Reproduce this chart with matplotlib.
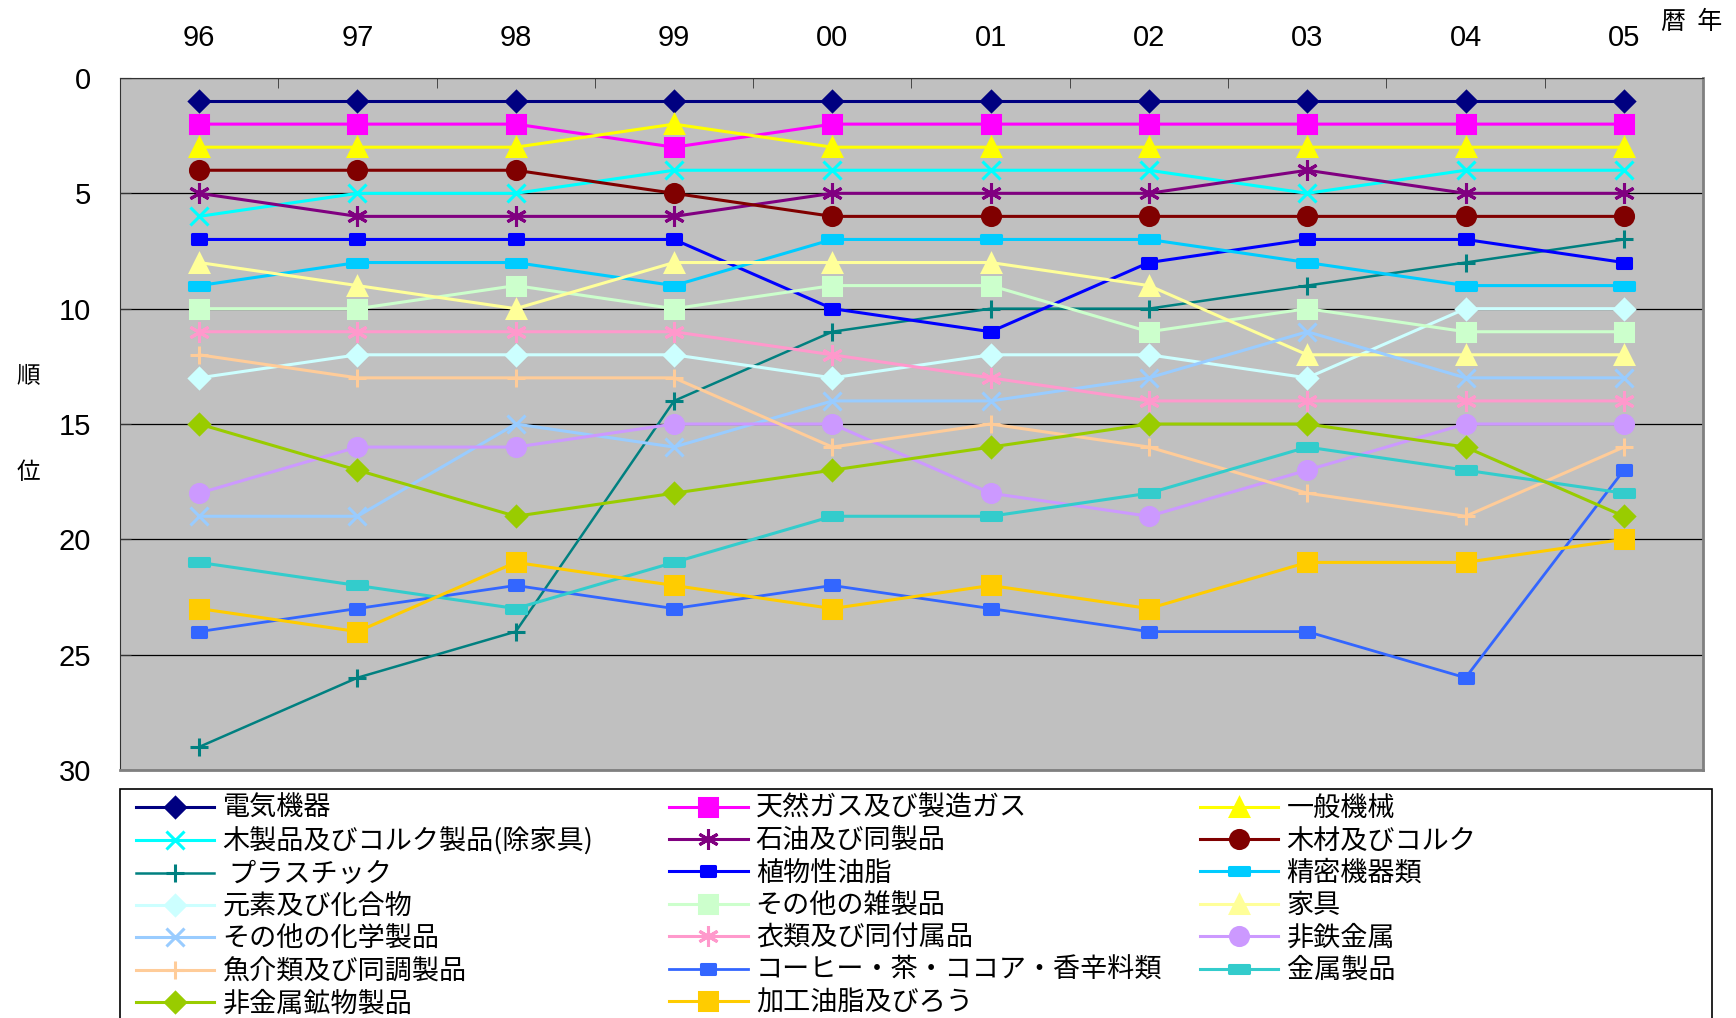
import matplotlib
matplotlib.use("Agg")
import matplotlib.pyplot as plt
from matplotlib.path import Path
from matplotlib.patches import Rectangle

plt.rcParams['font.family'] = ['Noto Sans CJK JP', 'DejaVu Sans']

# --- data (rank by year) ---
years = ["96", "97", "98", "99", "00", "01", "02", "03", "04", "05"]

names = [
    "電気機器", "天然ガス及び製造ガス", "一般機械",
    "木製品及びコルク製品(除家具)", "石油及び同製品", "木材及びコルク",
    " プラスチック", "植物性油脂", "精密機器類",
    "元素及び化合物", "その他の雑製品", "家具",
    "その他の化学製品", "衣類及び同付属品", "非鉄金属",
    "魚介類及び同調製品", "コーヒー・茶・ココア・香辛料類", "金属製品",
    "非金属鉱物製品", "加工油脂及びろう",
]

denki_kiki = [1, 1, 1, 1, 1, 1, 1, 1, 1, 1]
tennen_gas = [2, 2, 2, 3, 2, 2, 2, 2, 2, 2]
ippan_kikai = [3, 3, 3, 2, 3, 3, 3, 3, 3, 3]
mokuseihin = [6, 5, 5, 4, 4, 4, 4, 5, 4, 4]
sekiyu = [5, 6, 6, 6, 5, 5, 5, 4, 5, 5]
mokuzai = [4, 4, 4, 5, 6, 6, 6, 6, 6, 6]
plastic = [29, 26, 24, 14, 11, 10, 10, 9, 8, 7]
shokubutsu_yushi = [7, 7, 7, 7, 10, 11, 8, 7, 7, 8]
seimitsu = [9, 8, 8, 9, 7, 7, 7, 8, 9, 9]
genso = [13, 12, 12, 12, 13, 12, 12, 13, 10, 10]
sonota_zatsu = [10, 10, 9, 10, 9, 9, 11, 10, 11, 11]
kagu = [8, 9, 10, 8, 8, 8, 9, 12, 12, 12]
sonota_kagaku = [19, 19, 15, 16, 14, 14, 13, 11, 13, 13]
irui = [11, 11, 11, 11, 12, 13, 14, 14, 14, 14]
hitetsu = [18, 16, 16, 15, 15, 18, 19, 17, 15, 15]
gyokai = [12, 13, 13, 13, 16, 15, 16, 18, 19, 16]
coffee = [24, 23, 22, 23, 22, 23, 24, 24, 26, 17]
kinzoku = [21, 22, 23, 21, 19, 19, 18, 16, 17, 18]
hikinzoku = [15, 17, 19, 18, 17, 16, 15, 15, 16, 19]
kako_yushi = [23, 24, 21, 22, 23, 22, 23, 21, 21, 20]

values = [denki_kiki, tennen_gas, ippan_kikai, mokuseihin, sekiyu, mokuzai,
          plastic, shokubutsu_yushi, seimitsu, genso, sonota_zatsu, kagu,
          sonota_kagaku, irui, hitetsu, gyokai, coffee, kinzoku, hikinzoku,
          kako_yushi]

# --- styles ---
wide_rect = Path([(-1, -0.4), (1, -0.4), (1, 0.4), (-1, 0.4), (-1, -0.4)],
                 [Path.MOVETO, Path.LINETO, Path.LINETO, Path.LINETO, Path.CLOSEPOLY])
small_rect = Path([(-1, -0.65), (1, -0.65), (1, 0.65), (-1, 0.65), (-1, -0.65)],
                  [Path.MOVETO, Path.LINETO, Path.LINETO, Path.LINETO, Path.CLOSEPOLY])
star = (6, 2, 0)

colors = ["#000080", "#FF00FF", "#FFFF00", "#00FFFF", "#800080", "#800000",
          "#008080", "#0000FF", "#00CCFF", "#CCFFFF", "#CCFFCC", "#FFFF99",
          "#99CCFF", "#FF99CC", "#CC99FF", "#FFCC99", "#3366FF", "#33CCCC",
          "#99CC00", "#FFCC00"]
markers = ["D", "s", "^", "x", star, "o",
           "+", small_rect, wide_rect, "D", "s", "^",
           "x", star, "o", "+", small_rect, wide_rect,
           "D", "s"]
msizes = [10, 13, 13.5, 13, 15, 13,
          13, 10, 15, 10, 13, 13.5,
          13, 15, 13, 13, 10, 15,
          10, 13]
lwidths = [2.2, 2.2, 2.2, 2.2, 2.2, 2.2,
           1.8, 2.2, 2.2, 2.2, 2.2, 2.2,
           2.2, 2.2, 2.2, 2.2, 2.0, 2.2,
           2.2, 2.2]

fig = plt.figure(figsize=(17.36, 10.18), dpi=100)
ax = fig.add_axes([0.0691, 0.2436, 0.9119, 0.6798])
ax.set_facecolor("#C0C0C0")

x = list(range(len(years)))
lines = []
for vals, c, m, ms, lw in zip(values, colors, markers, msizes, lwidths):
    ln, = ax.plot(x, vals, color=c, lw=lw, marker=m, markersize=ms,
                  markerfacecolor=c, markeredgecolor=c, markeredgewidth=2.2)
    lines.append(ln)

ax.set_xlim(-0.5, 9.5)
ax.set_ylim(30, 0)
ax.set_yticks([0, 5, 10, 15, 20, 25, 30])
ax.yaxis.grid(True, color="black", lw=0.9)
ax.set_axisbelow(True)

num_font = ['Liberation Sans Narrow', 'Liberation Sans', 'DejaVu Sans']
ax.xaxis.tick_top()
ax.set_xticks(x)
ax.set_xticklabels(years, fontsize=21, family=num_font)
ax.set_xticks([i + 0.5 for i in x[:-1]], minor=True)
ax.tick_params(axis="x", which="major", length=0, pad=19)
ax.tick_params(axis="x", which="minor", direction="in", length=7, color="#333333")
ax.tick_params(axis="y", direction="in", length=8, color="#333333", pad=21)
for lab in ax.get_yticklabels():
    lab.set_fontsize(21)
    lab.set_family(num_font)

ax.spines["top"].set_color("#333333")
ax.spines["left"].set_color("#333333")
ax.spines["right"].set_color("#808080")
ax.spines["bottom"].set_color("#808080")
ax.spines["right"].set_linewidth(2)
ax.spines["bottom"].set_linewidth(2)

ax.set_ylabel("順\n\n位", rotation=0, fontsize=17, linespacing=2.4, va="center")
ax.yaxis.set_label_coords(-0.058, 0.5)

fig.text(0.957, 0.978, "暦  年", fontsize=18, ha="left", va="center")

# legend: three columns laid out row by row like the original
col_x = [0.0783, 0.3854, 0.6912]
for col in range(3):
    idx = list(range(col, len(names), 3))
    fig.legend([lines[i] for i in idx], [names[i] for i in idx],
               loc="upper left", bbox_to_anchor=(col_x[col], 0.219),
               bbox_transform=fig.transFigure, frameon=False,
               borderpad=0, borderaxespad=0, handlelength=2.9,
               handletextpad=0.3, labelspacing=0.2, numpoints=1,
               prop={"size": 19.5})

fig.patches.append(Rectangle((0.0691, -0.05), 0.9171, 0.275, transform=fig.transFigure,
                             fill=False, edgecolor="black", lw=1.2))

fig.savefig("out.png", dpi=100)
